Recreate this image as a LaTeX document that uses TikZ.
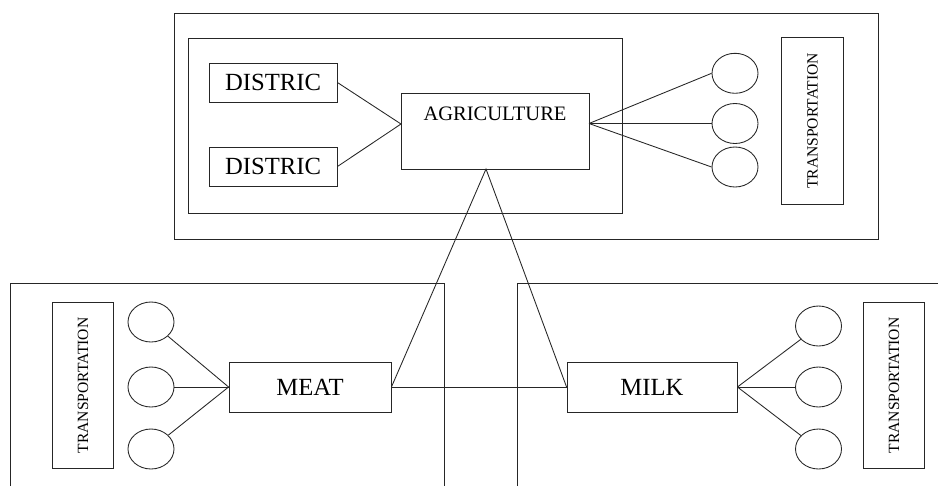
\documentclass[tikz,border=0pt]{standalone}
\usepackage{fontspec}
\setmainfont{Liberation Serif}
\usetikzlibrary{shapes.geometric}
\tikzset{
  ln/.style={draw=black!85, line width=0.65pt},
  boxnode/.style={ln, rectangle, inner sep=0pt, font=\fontsize{18.5}{20}\selectfont},
  oval/.style={ln, ellipse, inner sep=0pt, minimum width=34.5pt, minimum height=30pt},
  transbox/.style={ln, rectangle, inner sep=0pt, minimum width=46pt, minimum height=125pt},
  translabel/.style={rotate=90, font=\fontsize{11.7}{13}\selectfont}
}
\begin{document}
\begin{tikzpicture}[x=0.75pt, y=-0.75pt]
\useasboundingbox (0,0) rectangle (938,486);
% frames
\draw[ln] (174,13) rectangle (878,239);
\draw[ln] (188,38) rectangle (622,213);
\draw[ln] (10,486) -- (10,283) -- (444,283) -- (444,486);
\draw[ln] (517,486) -- (517,283) -- (938,283);
% top
\node[boxnode, minimum width=96pt, minimum height=29.25pt] (d1) at (273,82.5) {DISTRIC};
\node[boxnode, minimum width=96pt, minimum height=29.25pt] (d2) at (273,166.5) {DISTRIC};
\node[boxnode, font=\fontsize{15.4}{17}\selectfont, minimum width=141pt, text height=20.25pt, text depth=36.75pt, anchor=base] (agri) at (495,120) {AGRICULTURE};
\coordinate (ajl) at (401,124);
\coordinate (ajr) at (589,123.5);
\coordinate (ajb) at (486,169);
\node[oval] (t1) at (735,73.3) {};
\node[oval] (t2) at (735,123.5) {};
\node[oval] (t3) at (735,167) {};
\node[transbox] (ttr) at (812.5,121) {};
\node[translabel] at (ttr.center) {TRANSPORTATION};
\draw[ln] (d1.east) -- (ajl) -- (d2.east);
\draw[ln] (ajr) -- (t1.west);
\draw[ln] (ajr) -- (t2.west);
\draw[ln] (ajr) -- (t3.west);
% bottom left
\node[transbox] (tbl) at (83,385.5) {};
\node[translabel] at (tbl.center) {TRANSPORTATION};
\node[oval] (l1) at (151,322) {};
\node[oval] (l2) at (151,387) {};
\node[oval] (l3) at (151,449) {};
\node[boxnode, minimum width=121.5pt, minimum height=37.5pt] (meat) at (310,387) {MEAT};
\draw[ln] (meat.west) -- (l1);
\draw[ln] (meat.west) -- (l2);
\draw[ln] (meat.west) -- (l3);
% bottom right
\node[boxnode, minimum width=127.5pt, minimum height=37.5pt] (milk) at (652,387) {MILK};
\node[oval] (r1) at (818.5,326) {};
\node[oval] (r2) at (818.5,387) {};
\node[oval] (r3) at (818.5,449) {};
\node[transbox] (tbr) at (894,385.5) {};
\node[translabel] at (tbr.center) {TRANSPORTATION};
\draw[ln] (milk.east) -- (r1);
\draw[ln] (milk.east) -- (r2);
\draw[ln] (milk.east) -- (r3);
% links
\draw[ln] (meat.east) -- (ajb) -- (milk.west);
\draw[ln] (meat.east) -- (milk.west);
\end{tikzpicture}
\end{document}
